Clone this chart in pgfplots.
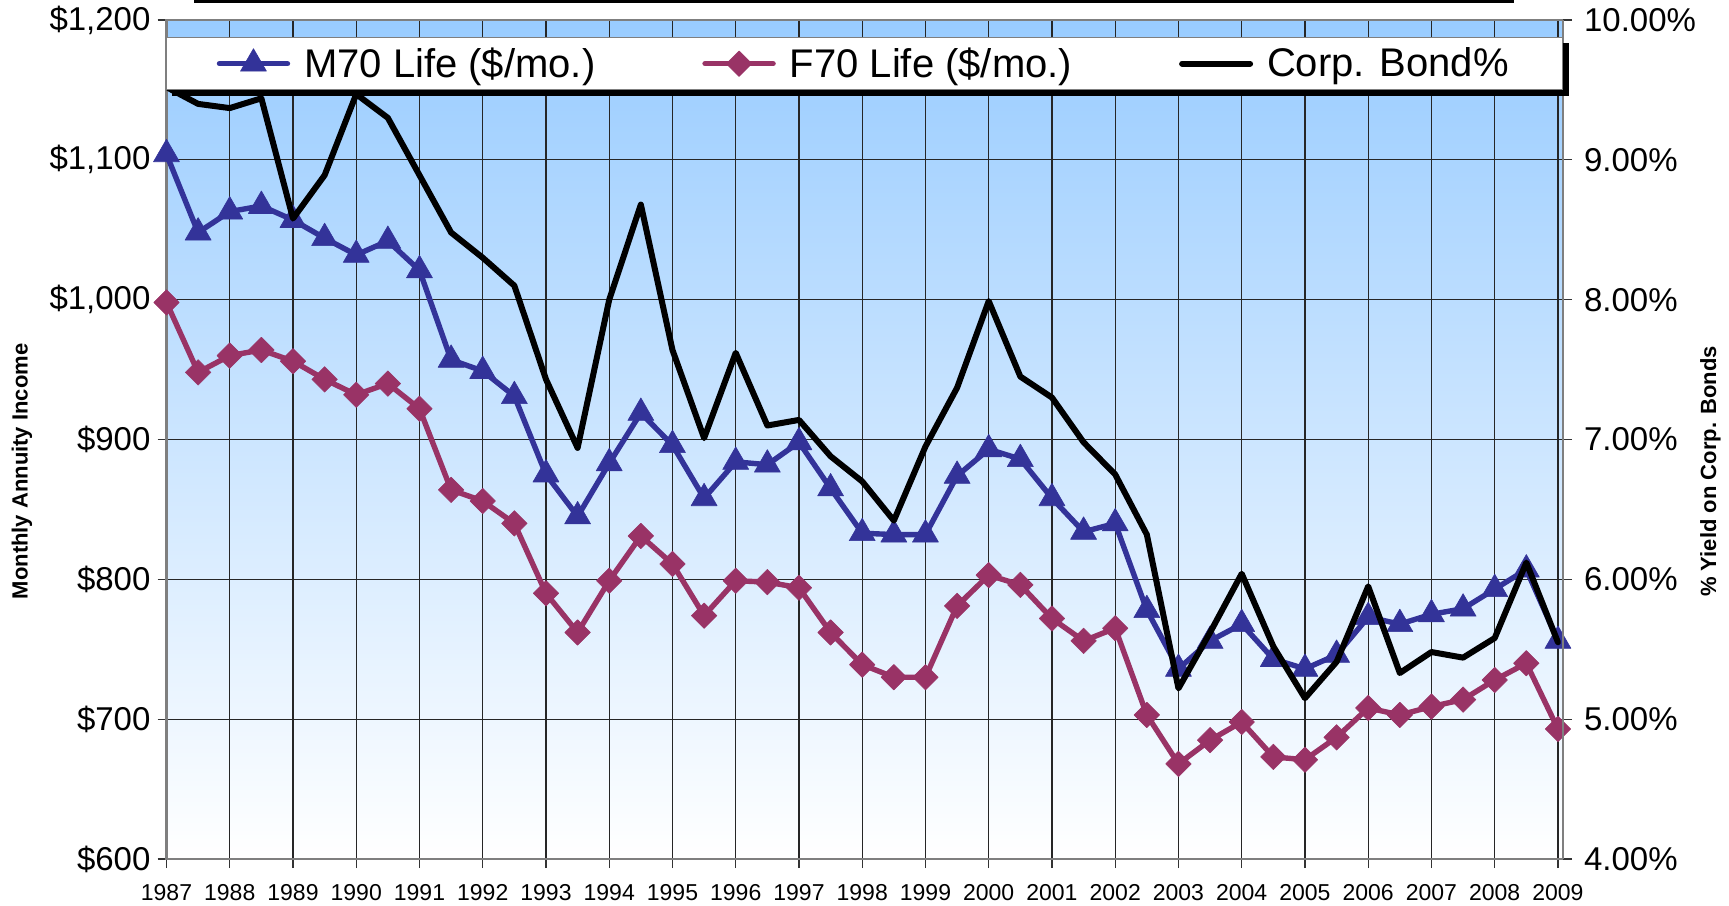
\documentclass[border=0pt]{standalone}
\usepackage{fontspec}
\setmainfont{Liberation Sans}
\usepackage{pgfplots}
\usepackage{pgfplotstable}
\pgfplotsset{compat=1.18}

\definecolor{mblue}{HTML}{333399}
\definecolor{fpurple}{HTML}{993366}
\definecolor{bgtop}{HTML}{99CCFF}
\definecolor{axgray}{HTML}{7F7F7F}

% half-year readings: M70 / F70 monthly income ($), corporate bond yield (%)
\pgfplotstableread{
year    m70   f70   bond
1987    1104  998   9.52
1987.5  1048  948   9.40
1988    1063  960   9.37
1988.5  1067  964   9.44
1989    1057  956   8.58
1989.5  1044  943   8.89
1990    1032  932   9.47
1990.5  1042  940   9.30
1991    1021  922   8.89
1991.5  957   864   8.48
1992    949   856   8.30
1992.5  931   840   8.10
1993    875   790   7.43
1993.5  845   762   6.94
1994    883   799   8.00
1994.5  919   831   8.68
1995    896   811   7.64
1995.5  858   774   7.01
1996    884   799   7.62
1996.5  882   798   7.10
1997    898   794   7.14
1997.5  865   762   6.88
1998    833   739   6.70
1998.5  832   730   6.42
1999    832   730   6.95
1999.5  874   781   7.37
2000    893   803   7.99
2000.5  886   796   7.45
2001    858   772   7.30
2001.5  834   756   6.98
2002    840   765   6.75
2002.5  778   703   6.32
2003    736   668   5.22
2003.5  756   685   5.62
2004    768   698   6.04
2004.5  743   673   5.52
2005    736   671   5.15
2005.5  746   687   5.41
2006    773   708   5.95
2006.5  768   703   5.33
2007    775   709   5.48
2007.5  779   714   5.44
2008    793   728   5.58
2008.5  807   740   6.12
2009    756   693   5.55
}\annuity

\pgfplotsset{
  frame/.style={
    width=698.25bp, height=419.5bp, scale only axis,
    xmin=1987, xmax=2009.08,
    tick align=outside, major tick length=4.5bp,
    tick style={black!80, line width=0.6bp},
    axis line style={axgray, line width=1.1bp},
    yticklabel style={font=\fontsize{16.5bp}{19bp}\selectfont},
  },
  m70/.style={mblue, line width=2.7bp, line join=round, line cap=round,
    mark=triangle*, mark size=7.5bp, mark options={solid, line width=0.3bp, fill=mblue}},
  f70/.style={fpurple, line width=2.7bp, line join=round, line cap=round,
    mark=square*, mark size=4.5bp, mark options={solid, rotate=45, line width=0.3bp, fill=fpurple}},
}

\begin{document}
\begin{tikzpicture}
\begin{axis}[frame,
    ymin=600, ymax=1200,
    ytick={600,700,...,1200},
    yticklabels={{\$600},{\$700},{\$800},{\$900},{\$1,000},{\$1,100},{\$1,200}},
    xtick={1987,1988,...,2009},
    xticklabel style={font=\fontsize{11.5bp}{13bp}\selectfont, yshift=-4.5bp,
      /pgf/number format/1000 sep={}, /pgf/number format/assume math mode=true},
    xtick pos=bottom, ytick pos=left,
    grid=major, major grid style={black!85, line width=0.55bp},
    axis background/.style={top color=bgtop, bottom color=white},
    ylabel={Monthly Annuity Income},
    every axis y label/.style={at={(axis description cs:-0.1035,0.462)}, rotate=90, anchor=center,
      font=\bfseries\fontsize{11bp}{13bp}\selectfont},
  ]
  \addplot[m70] table[x=year, y=m70] {\annuity};
  \addplot[f70] table[x=year, y=f70] {\annuity};
\end{axis}

\begin{axis}[frame,
    ymin=4, ymax=10,
    axis x line=none, axis y line*=right,
    ytick={4,5,...,10},
    yticklabels={4.00\%,5.00\%,6.00\%,7.00\%,8.00\%,9.00\%,10.00\%},
    yticklabel style={xshift=2.5bp},
    ylabel={\% Yield on Corp. Bonds},
    every axis y label/.style={at={(axis description cs:1.1056,0.462)}, rotate=90, anchor=center,
      font=\bfseries\fontsize{11bp}{13bp}\selectfont},
    legend columns=3,
    legend image code/.code={\draw[mark repeat=2, mark phase=2, #1]
      plot coordinates {(0bp,0bp) (17bp,0bp) (34bp,0bp)};},
    legend style={name=lgd, at={(0.5,1)}, anchor=north, yshift=-8.5bp,
      draw=axgray, line width=0.6bp, fill=white,
      inner xsep=25bp, inner ysep=2.9bp,
      nodes={inner ysep=2bp, inner xsep=2bp},
      font=\fontsize{20bp}{22bp}\selectfont,
      /tikz/every odd column/.append style={column sep=5bp},
      /tikz/every even column/.append style={column sep=51.5bp}},
  ]
  \addlegendimage{m70}
  \addlegendentry{M70 Life (\$/mo.)}
  \addlegendimage{f70}
  \addlegendentry{F70 Life (\$/mo.)}
  \addplot[black, line width=3bp, line join=round, line cap=round] table[x=year, y=bond] {\annuity};
  \addlegendentry{Corp. Bond\%}
\end{axis}

% legend shadow (bottom and right strips)
\fill[black] ([xshift=3bp, yshift=-3bp]lgd.south west) rectangle ([xshift=3bp]lgd.south east);
\fill[black] ([yshift=-3bp]lgd.north east) rectangle ([xshift=3bp]lgd.south east);

\draw[line width=1.6bp] ([xshift=13.75bp, yshift=9.2bp]current axis.north west)
  -- ([xshift=673.75bp, yshift=9.2bp]current axis.north west);

\pgfresetboundingbox
\path[use as bounding box] ([xshift=-83.25bp, yshift=-23.5bp]current axis.south west)
  rectangle ([xshift=83bp, yshift=10bp]current axis.north east);
\end{tikzpicture}
\end{document}
